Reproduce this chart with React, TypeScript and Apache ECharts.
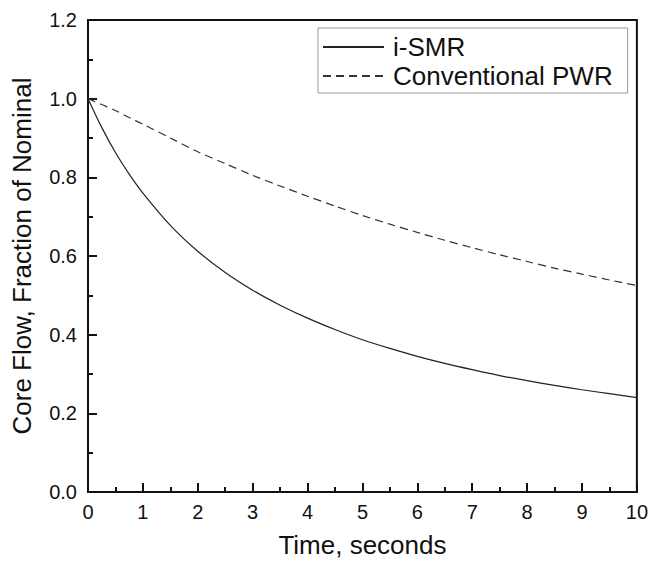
import React, { useEffect, useRef } from "react";
import * as echarts from "echarts";

const timeSeconds = [0, 0.25, 0.5, 0.75, 1, 1.5, 2, 2.5, 3, 3.5, 4, 4.5, 5, 5.5, 6, 6.5, 7, 7.5, 8, 8.5, 9, 9.5, 10];
const iSMRFlow = [1.0, 0.927, 0.863, 0.808, 0.76, 0.678, 0.612, 0.558, 0.513, 0.475, 0.442, 0.413, 0.387, 0.365, 0.345, 0.327, 0.311, 0.296, 0.283, 0.271, 0.26, 0.25, 0.24];
const pwrFlow = [1.0, 0.985, 0.97, 0.952, 0.935, 0.9, 0.865, 0.835, 0.805, 0.778, 0.752, 0.727, 0.703, 0.681, 0.66, 0.64, 0.621, 0.603, 0.586, 0.569, 0.554, 0.539, 0.525];
const seriesNames = ["i-SMR", "Conventional PWR"];

const FONT = "Liberation Sans, Arial, sans-serif";
const INK = "#111";

export default function App() {
  const ref = useRef<HTMLDivElement>(null);
  useEffect(() => {
    if (!ref.current) return;
    const chart = echarts.init(ref.current, undefined, { renderer: "svg" });
    const pair = (ys: number[]) => timeSeconds.map((t, i) => [t, ys[i]]);
    const axisCommon = {
      axisLine: { show: true, lineStyle: { color: INK, width: 2 } },
      axisTick: { show: true, inside: true, length: 9, lineStyle: { color: INK, width: 2 } },
      minorTick: { show: true, splitNumber: 2, length: 5, lineStyle: { color: INK, width: 2 } },
      splitLine: { show: false },
    };
    chart.setOption({
      animation: false,
      backgroundColor: "#fff",
      textStyle: { fontFamily: FONT },
      grid: { left: 88, top: 20, width: 550, height: 472, show: true, borderColor: INK, borderWidth: 2, backgroundColor: "transparent" },
      legend: {
        orient: "vertical",
        left: 318,
        top: 28,
        padding: [6, 15, 4, 4],
        itemGap: 3,
        itemWidth: 61,
        itemHeight: 14,
        borderColor: "#999",
        borderWidth: 1,
        itemStyle: { color: "transparent", borderColor: "transparent", borderWidth: 0 },
        textStyle: { fontSize: 26, color: INK, fontFamily: FONT, padding: [0, 0, 0, 4] },
        data: seriesNames,
      },
      xAxis: {
        type: "value",
        min: 0,
        max: 10,
        interval: 1,
        name: "Time, seconds",
        nameLocation: "middle",
        nameGap: 40,
        nameTextStyle: { fontSize: 26, color: INK, fontFamily: FONT },
        axisLabel: { fontSize: 20, color: INK, margin: 10, fontFamily: FONT },
        ...axisCommon,
      },
      yAxis: {
        type: "value",
        min: 0,
        max: 1.2,
        interval: 0.2,
        name: "Core Flow, Fraction of Nominal",
        nameLocation: "middle",
        nameGap: 53,
        nameTextStyle: { fontSize: 26, color: INK, fontFamily: FONT },
        axisLabel: { fontSize: 20, color: INK, margin: 11, fontFamily: FONT, formatter: (v: number) => v.toFixed(1) },
        ...axisCommon,
      },
      series: [
        {
          name: seriesNames[0],
          type: "line",
          data: pair(iSMRFlow),
          smooth: 0.3,
          symbol: "none",
          showSymbol: false,
          lineStyle: { color: "#222", width: 1.2, type: "solid" },
          itemStyle: { color: "#222" },
        },
        {
          name: seriesNames[1],
          type: "line",
          data: pair(pwrFlow),
          smooth: 0.3,
          symbol: "none",
          showSymbol: false,
          lineStyle: { color: "#333", width: 1.2, type: [8, 5] },
          itemStyle: { color: "#333" },
        },
      ],
    });
    return () => chart.dispose();
  }, []);
  return <div ref={ref} style={{ width: 651, height: 565, position: "absolute", left: 0, top: 0 }} />;
}
